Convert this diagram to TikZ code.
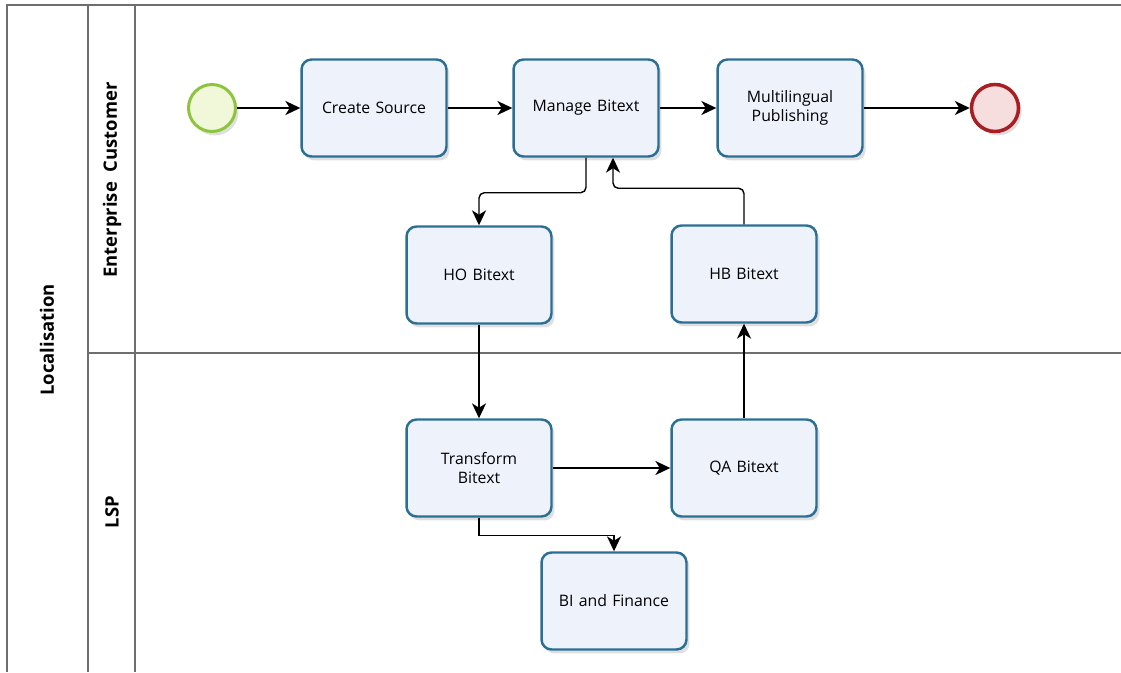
\documentclass[tikz,border=0pt]{standalone}
\usepackage{fontspec}
\setmainfont{Open Sans}
\usepackage{tikz}
\usetikzlibrary{arrows,arrows.meta,shadows,positioning}
\definecolor{taskborder}{HTML}{2C6F95}
\definecolor{taskfill}{HTML}{EEF2FB}
\definecolor{startborder}{HTML}{8CC43C}
\definecolor{startfill}{HTML}{F1F8D9}
\definecolor{endborder}{HTML}{A81E22}
\definecolor{endfill}{HTML}{F6DEDF}
\definecolor{poolline}{HTML}{6E6E6E}
\tikzset{task/.style = {rectangle, rounded corners=0.2cm, minimum width=2.9cm, minimum height=1.94cm, text width=2.5cm, align=center, draw=taskborder, line width=1.4pt, fill=taskfill, font=\fontsize{9}{11}\selectfont, drop shadow={shadow xshift=0.06cm, shadow yshift=-0.08cm, opacity=0.25, fill=gray}}}
\tikzset{event/.style = {circle, minimum size=0.94cm, inner sep=0pt, drop shadow={shadow xshift=0.06cm, shadow yshift=-0.08cm, opacity=0.25, fill=gray}}}
\tikzset{arrow/.style={line width=0.8pt,-{Stealth[length=8.5pt,width=8pt,inset=2.5pt]}}}

\begin{document}
\begin{tikzpicture}[x=0.02cm, y=-0.02cm]
	\tikzstyle{pool}=[draw=poolline, line width=0.9pt]
	\tikzstyle{lanelabel}=[rotate=90, font=\bfseries\fontsize{10.5}{12}\selectfont]
	\useasboundingbox (0,0) rectangle (1121,672);
	% pool and lanes
	\draw[pool] (7,672) -- (7,5) -- (1121,5);
	\draw[pool] (88,5) -- (88,672);
	\draw[pool] (135,5) -- (135,672);
	\draw[pool] (88,353) -- (1121,353);
	\node[lanelabel] (poolname) at (47,340) {Localisation};
	\node[lanelabel] (customer) at (112,180) {Enterprise\ \ Customer};
	\node[lanelabel] (lsp) at (112,512) {LSP};
	% enterprise customer
	\node[event, draw=startborder, fill=startfill, line width=1.7pt] (start) at (212,108) {};
	\node[task] (create) at (374,108) {Create Source};
	\node[task] (manage) at (586,108) {Manage Bitext};
	\node[task] (publish) at (790,108) {Multilingual\\Publishing};
	\node[event, draw=endborder, fill=endfill, line width=2pt] (stop) at (995,108) {};
	\node[task] (ho) at (479,275) {HO Bitext};
	\node[task] (hb) at (744,274) {HB Bitext};
	% lsp
	\node[task] (transform) at (479,468) {Transform\\Bitext};
	\node[task] (qa) at (744,468) {QA Bitext};
	\node[task] (bi) at (614,601) {BI and Finance};
	% flows
	\draw[arrow] (start) -- (create);
	\draw[arrow] (create) -- (manage);
	\draw[arrow] (manage) -- (publish);
	\draw[arrow] (publish) -- (stop);
	\draw[arrow, rounded corners=3pt] (manage.south) -- ++(0,35) -| (ho.north);
	\draw[arrow, rounded corners=3pt] (hb.north) -- ++(0,-36) -| ([xshift=0.54cm]manage.south);
	\draw[arrow] (ho) -- (transform);
	\draw[arrow] (transform) -- (qa);
	\draw[arrow] (qa) -- (hb);
	\draw[arrow] (transform.south) -- ++(0,18) -| (bi.north);
\end{tikzpicture}
\end{document}
